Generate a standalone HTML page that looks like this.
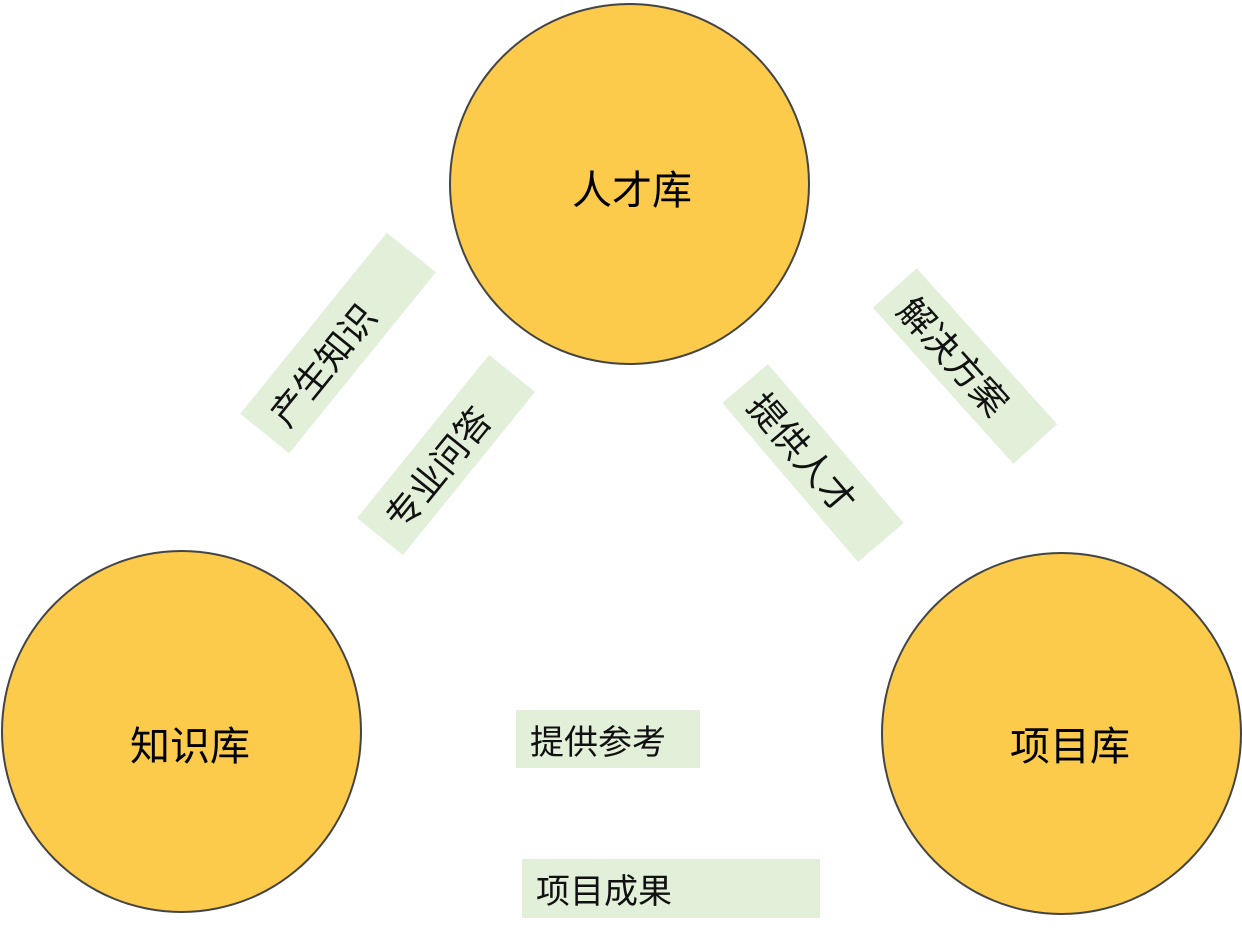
<!DOCTYPE html>
<html><head><meta charset="utf-8"><style>
html,body{margin:0;padding:0;background:#fff;}
body{width:1242px;height:935px;position:relative;overflow:hidden;font-family:"Liberation Sans","Noto Sans CJK SC",sans-serif;}
.c{position:absolute;border-radius:50%;background:#fccb4b;border:2px solid #444;box-sizing:border-box;}
.cl{position:absolute;font-size:40px;color:#000;transform:translate(-50%,-50%);white-space:nowrap;}
.g{position:absolute;background:#e2efd9;font-size:34px;color:#111;box-sizing:border-box;padding-left:16px;white-space:nowrap;display:flex;align-items:center;}
.r{font-size:36px;padding-left:18px;}
</style></head><body>
<div class="c" style="left:449px;top:3px;width:361px;height:362px"></div>
<div class="c" style="left:1px;top:550px;width:361px;height:363px"></div>
<div class="c" style="left:881px;top:552px;width:361px;height:363px"></div>
<div class="cl" style="left:632px;top:187px">人才库</div>
<div class="cl" style="left:190px;top:743px">知识库</div>
<div class="cl" style="left:1070px;top:743px">项目库</div>

<div class="g r" style="left:338px;top:343px;width:233px;height:63px;transform:translate(-50%,-50%) rotate(-51deg)">产生知识</div>
<div class="g r" style="left:446px;top:455px;width:210px;height:59px;transform:translate(-50%,-50%) rotate(-51deg)">专业问答</div>
<div class="g r" style="left:965px;top:366px;width:210px;height:59px;transform:translate(-50%,-50%) rotate(48deg)">解决方案</div>
<div class="g r" style="left:813px;top:463px;width:209px;height:60px;transform:translate(-50%,-50%) rotate(49.5deg)">提供人才</div>

<div class="g" style="left:516px;top:710px;width:184px;height:58px;padding-left:14px">提供参考</div>
<div class="g" style="left:522px;top:859px;width:298px;height:59px;padding-left:14px">项目成果</div>
</body></html>
